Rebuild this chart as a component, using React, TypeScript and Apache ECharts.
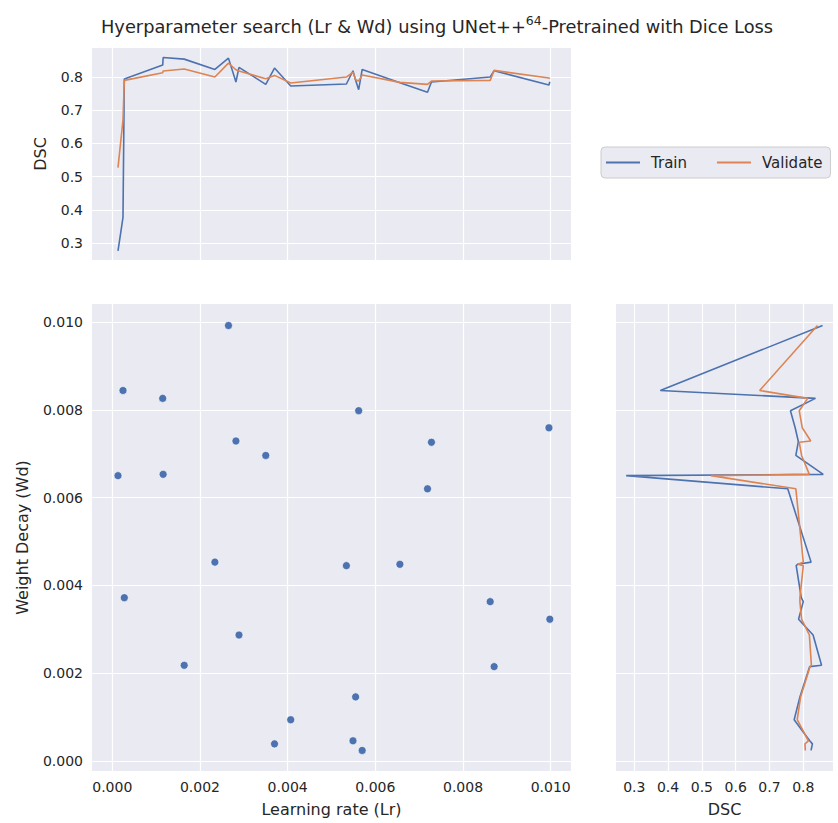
import React, { useEffect, useRef } from "react";
import * as echarts from "echarts";

// One entry per trial (learning rate, weight decay, train DSC, validation DSC)
const lr = [0.00013, 0.000244, 0.000274, 0.00115, 0.00116, 0.00164, 0.00234, 0.00265, 0.00282, 0.00289, 0.0035, 0.0037, 0.00407, 0.00534, 0.00549, 0.00555, 0.00562, 0.0057, 0.00656, 0.00719, 0.00728, 0.00862, 0.00871, 0.00996, 0.00998];
const wd = [0.0065, 0.00844, 0.00372, 0.00826, 0.00653, 0.00218, 0.00453, 0.00992, 0.00729, 0.00287, 0.00696, 0.00039, 0.00094, 0.00445, 0.00046, 0.00146, 0.00798, 0.00024, 0.00448, 0.0062, 0.00726, 0.00363, 0.00215, 0.00759, 0.00323];
const trainDsc = [0.276, 0.377, 0.794, 0.836, 0.859, 0.854, 0.823, 0.857, 0.785, 0.829, 0.778, 0.827, 0.773, 0.779, 0.819, 0.79, 0.762, 0.823, 0.783, 0.754, 0.785, 0.8, 0.819, 0.776, 0.786];
const valDsc = [0.527, 0.671, 0.79, 0.813, 0.818, 0.824, 0.8, 0.842, 0.822, 0.818, 0.795, 0.805, 0.782, 0.8, 0.815, 0.792, 0.788, 0.806, 0.784, 0.778, 0.788, 0.79, 0.82, 0.797, 0.795];

const lrTicks = [0, 0.002, 0.004, 0.006, 0.008, 0.01];
const wdTicks = [0, 0.002, 0.004, 0.006, 0.008, 0.01];
const dscTicks = [0.3, 0.4, 0.5, 0.6, 0.7, 0.8];

const FONT = "DejaVu Sans";
const TXT = "#262626";
const BLUE = "#4C72B0";
const ORANGE = "#DD8452";

function axis(
  gridIndex: number,
  min: number,
  max: number,
  ticks: number[],
  showLabels: boolean,
  digits: number,
  extra: any = {}
) {
  return {
    type: "value",
    gridIndex,
    min,
    max,
    axisLine: { show: false },
    axisTick: { show: false, customValues: ticks },
    axisLabel: {
      show: showLabels,
      customValues: ticks,
      formatter: (v: number) => v.toFixed(digits),
      color: TXT,
      fontSize: 14,
      fontFamily: FONT,
      margin: 9,
    },
    splitLine: { show: true, lineStyle: { color: "#ffffff", width: 1.2 } },
    nameTextStyle: { color: TXT, fontSize: 16, fontFamily: FONT },
    ...extra,
  };
}

export default function App() {
  const ref = useRef<HTMLDivElement>(null);
  useEffect(() => {
    const chart = echarts.init(ref.current!, null, { renderer: "svg" });
    const idx = lr.map((_, i) => i);
    const byLr = [...idx].sort((a, b) => lr[a] - lr[b]);
    const byWd = [...idx].sort((a, b) => wd[b] - wd[a]);

    const lrMin = -0.000463;
    const lrMax = 0.010463;
    const wdMin = -0.000228;
    const wdMax = 0.01041;

    const option: any = {
      animation: false,
      backgroundColor: "#ffffff",
      textStyle: { fontFamily: FONT },
      title: {
        left: 96,
        top: 9,
        text: "{a|Hyerparameter search (Lr & Wd) using UNet++}{s|64}{a|-Pretrained with Dice Loss}",
        textStyle: {
          fontWeight: "normal",
          rich: {
            a: { fontSize: 17.8, fontFamily: FONT, color: TXT, lineHeight: 24, fontWeight: "normal" },
            s: { fontSize: 12.5, fontFamily: FONT, color: TXT, lineHeight: 15, verticalAlign: "top", fontWeight: "normal" },
          },
        },
      },
      legend: {
        left: 601,
        top: 147,
        orient: "horizontal",
        data: ["Train", "Validate"],
        icon: "rect",
        itemWidth: 34,
        itemHeight: 2,
        itemGap: 30,
        padding: [8, 8, 8, 5],
        backgroundColor: "#EAEAF2",
        borderColor: "#cccccc",
        borderWidth: 1,
        borderRadius: 4,
        textStyle: { fontSize: 15, color: TXT, fontFamily: FONT, padding: [0, 0, 0, 6], lineHeight: 14 },
      },
      grid: [
        { left: 92, top: 48, width: 479, height: 212, show: true, backgroundColor: "#EAEAF2", borderWidth: 0 },
        { left: 92, top: 304, width: 479, height: 467, show: true, backgroundColor: "#EAEAF2", borderWidth: 0 },
        { left: 616, top: 304, width: 217, height: 467, show: true, backgroundColor: "#EAEAF2", borderWidth: 0 },
      ],
      xAxis: [
        axis(0, lrMin, lrMax, lrTicks, false, 3),
        axis(1, lrMin, lrMax, lrTicks, true, 3, {
          name: "Learning rate (Lr)",
          nameLocation: "middle",
          nameGap: 30,
        }),
        axis(2, 0.2459, 0.8879, dscTicks, true, 1, {
          name: "DSC",
          nameLocation: "middle",
          nameGap: 30,
        }),
      ],
      yAxis: [
        axis(0, 0.2487, 0.8875, dscTicks, true, 1, {
          name: "DSC",
          nameLocation: "middle",
          nameGap: 44,
        }),
        axis(1, wdMin, wdMax, wdTicks, true, 3, {
          name: "Weight Decay (Wd)",
          nameLocation: "middle",
          nameGap: 62,
        }),
        axis(2, wdMin, wdMax, wdTicks, false, 3),
      ],
      series: [
        {
          name: "Train",
          type: "line",
          xAxisIndex: 0,
          yAxisIndex: 0,
          symbol: "none",
          data: byLr.map((i) => [lr[i], trainDsc[i]]),
          lineStyle: { color: BLUE, width: 1.6 },
          itemStyle: { color: BLUE },
        },
        {
          name: "Validate",
          type: "line",
          xAxisIndex: 0,
          yAxisIndex: 0,
          symbol: "none",
          data: byLr.map((i) => [lr[i], valDsc[i]]),
          lineStyle: { color: ORANGE, width: 1.6 },
          itemStyle: { color: ORANGE },
        },
        {
          name: "Trials",
          type: "scatter",
          xAxisIndex: 1,
          yAxisIndex: 1,
          symbolSize: 8,
          data: idx.map((i) => [lr[i], wd[i]]),
          itemStyle: { color: BLUE, borderColor: "#ffffff", borderWidth: 0.6, opacity: 1 },
        },
        {
          name: "Train",
          type: "line",
          xAxisIndex: 2,
          yAxisIndex: 2,
          symbol: "none",
          data: byWd.map((i) => [trainDsc[i], wd[i]]),
          lineStyle: { color: BLUE, width: 1.6 },
          itemStyle: { color: BLUE },
        },
        {
          name: "Validate",
          type: "line",
          xAxisIndex: 2,
          yAxisIndex: 2,
          symbol: "none",
          data: byWd.map((i) => [valDsc[i], wd[i]]),
          lineStyle: { color: ORANGE, width: 1.6 },
          itemStyle: { color: ORANGE },
        },
      ],
    };
    chart.setOption(option);
    return () => chart.dispose();
  }, []);
  return (
    <div
      ref={ref}
      style={{ position: "absolute", left: 0, top: 0, width: 838, height: 823 }}
    />
  );
}
